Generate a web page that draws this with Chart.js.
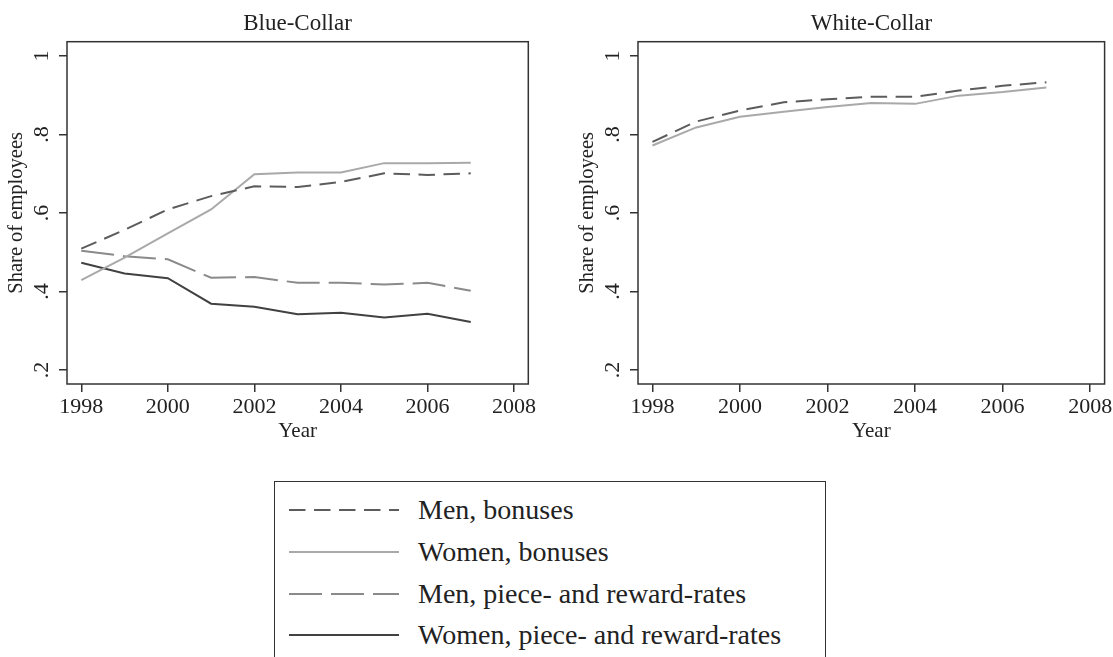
<!DOCTYPE html>
<html>
<head>
<meta charset="utf-8">
<script src="https://cdn.jsdelivr.net/npm/chart.js@4.4.1/dist/chart.umd.min.js"></script>
<style>
    body { margin: 0; width: 1113px; height: 657px; overflow: hidden; background: #fff; font-family: "Liberation Serif", serif; color: #222; }
    .panel { position: absolute; top: 0; height: 450px; }
    #bluePanel { left: 0; width: 595px; }
    #whitePanel { left: 571px; width: 601px; }
    #legend { position: absolute; left: 274px; top: 481px; width: 552px; height: 200px; border: 1.5px solid #333; box-sizing: border-box; }
    .sample { position: absolute; left: 289px; width: 110px; height: 8px; }
    .label { position: absolute; left: 418px; font-size: 28px; line-height: 32px; white-space: nowrap; }
</style>
</head>
<body>
<div class="panel" id="bluePanel"><canvas id="blueChart"></canvas></div>
<div class="panel" id="whitePanel"><canvas id="whiteChart"></canvas></div>
<div id="legend"></div>

<script>
const years = [1998, 1999, 2000, 2001, 2002, 2003, 2004, 2005, 2006, 2007];

// Blue-collar shares
const blueMenBonuses    = [0.509, 0.557, 0.609, 0.643, 0.668, 0.666, 0.679, 0.701, 0.697, 0.701];
const blueWomenBonuses  = [0.429, 0.486, 0.548, 0.609, 0.699, 0.703, 0.703, 0.727, 0.727, 0.728];
const blueMenPiece      = [0.504, 0.490, 0.482, 0.435, 0.437, 0.422, 0.422, 0.418, 0.422, 0.402];
const blueWomenPiece    = [0.473, 0.446, 0.434, 0.369, 0.361, 0.342, 0.346, 0.334, 0.343, 0.322];

// White-collar shares
const whiteMenBonuses   = [0.781, 0.833, 0.861, 0.882, 0.890, 0.896, 0.896, 0.912, 0.924, 0.933];
const whiteWomenBonuses = [0.772, 0.818, 0.845, 0.858, 0.870, 0.880, 0.878, 0.899, 0.908, 0.920];

const xTicks = [1998, 2000, 2002, 2004, 2006, 2008];
const yTicks = [0.2, 0.4, 0.6, 0.8, 1];
const yTickLabels = ['.2', '.4', '.6', '.8', '1'];

const seriesNames = ['Men, bonuses', 'Women, bonuses', 'Men, piece- and reward-rates', 'Women, piece- and reward-rates'];

const FONT = '"Liberation Serif", serif';
const INK = '#222';
const FRAME = '#333';

const STYLES = [
    { color: '#5c5c5c', dash: [16.5, 8.5] },
    { color: '#a9a9a9', dash: [] },
    { color: '#8a8a8a', dash: [33, 9] },
    { color: '#414141', dash: [] }
];

const frame = {
    id: 'frame',
    afterDraw (chart) {
        const { ctx, chartArea: a } = chart;
        ctx.save();
        ctx.strokeStyle = FRAME;
        ctx.lineWidth = 1.5;
        ctx.strokeRect(a.left, a.top, a.right - a.left, a.bottom - a.top);
        ctx.restore();
    }
};

function makeDataset (i, values) {
    return {
        label: seriesNames[i],
        data: years.map((y, k) => ({ x: y, y: values[k] })),
        borderColor: STYLES[i].color,
        borderDash: STYLES[i].dash,
        borderWidth: 2,
        pointRadius: 0,
        tension: 0,
        fill: false
    };
}

// rightGap: empty axis on the right so the title centres over the plot box
function getConfig (title, datasets, rightGap) {
    return {
        type: 'line',
        data: { datasets },
        plugins: [frame],
        options: {
            responsive: true,
            maintainAspectRatio: false,
            animation: false,
            layout: { padding: 0 },
            plugins: {
                legend: { display: false },
                tooltip: { enabled: false },
                title: {
                    display: true,
                    text: title,
                    color: INK,
                    font: { family: FONT, size: 23, weight: 'normal' },
                    padding: { top: 9.7, bottom: 4.4 }
                }
            },
            scales: {
                x: {
                    type: 'linear',
                    min: 1997.67,
                    max: 2008.33,
                    afterBuildTicks: s => { s.ticks = xTicks.map(v => ({ value: v })); },
                    afterFit: s => { s.height = 66; },
                    border: { display: false },
                    grid: { drawOnChartArea: false, drawTicks: true, tickLength: 8, color: FRAME, lineWidth: 1.5 },
                    ticks: {
                        autoSkip: false, maxRotation: 0, padding: 2, color: INK,
                        font: { family: FONT, size: 22 },
                        callback: v => String(v)
                    },
                    title: {
                        display: true, text: 'Year', color: INK,
                        font: { family: FONT, size: 21 },
                        padding: { top: 0, bottom: 6 }
                    }
                },
                y: {
                    min: 0.1643,
                    max: 1.0364,
                    afterBuildTicks: s => { s.ticks = yTicks.map(v => ({ value: v })); },
                    afterFit: s => { s.width = 67; },
                    border: { display: false },
                    grid: { drawOnChartArea: false, drawTicks: true, tickLength: 8, color: FRAME, lineWidth: 1.5 },
                    ticks: {
                        autoSkip: false, minRotation: 90, maxRotation: 90, crossAlign: 'center', padding: 9, color: INK,
                        font: { family: FONT, size: 22 },
                        callback: v => yTickLabels[yTicks.findIndex(t => Math.abs(t - v) < 1e-9)]
                    },
                    title: {
                        display: true, text: 'Share of employees', color: INK,
                        font: { family: FONT, size: 20.5 },
                        padding: { top: 4.5, bottom: 0 }
                    }
                },
                gap: {
                    position: 'right',
                    display: true,
                    min: 0,
                    max: 1,
                    afterFit: s => { s.width = rightGap; },
                    border: { display: false },
                    grid: { display: false },
                    ticks: { display: false }
                }
            }
        }
    };
}

new Chart(document.getElementById('blueChart'), getConfig('Blue-Collar', [
    makeDataset(0, blueMenBonuses),
    makeDataset(1, blueWomenBonuses),
    makeDataset(2, blueMenPiece),
    makeDataset(3, blueWomenPiece)
], 66.7));

new Chart(document.getElementById('whiteChart'), getConfig('White-Collar', [
    makeDataset(0, whiteMenBonuses),
    makeDataset(1, whiteWomenBonuses)
], 67.4));

// shared legend below the panels
const rowTop = 509.7;
const rowStep = 41.9;
seriesNames.forEach((name, i) => {
    const yMid = rowTop + i * rowStep;

    const c = document.createElement('canvas');
    c.className = 'sample';
    c.width = 220; c.height = 16;
    c.style.top = (yMid - 4) + 'px';
    document.body.appendChild(c);
    const g = c.getContext('2d');
    g.scale(2, 2);
    g.strokeStyle = STYLES[i].color;
    g.lineWidth = 2;
    g.setLineDash(STYLES[i].dash);
    g.beginPath(); g.moveTo(0, 4); g.lineTo(110, 4); g.stroke();

    const t = document.createElement('div');
    t.className = 'label';
    t.textContent = name;
    t.style.top = (yMid - 16) + 'px';
    document.body.appendChild(t);
});
</script>
</body>
</html>
